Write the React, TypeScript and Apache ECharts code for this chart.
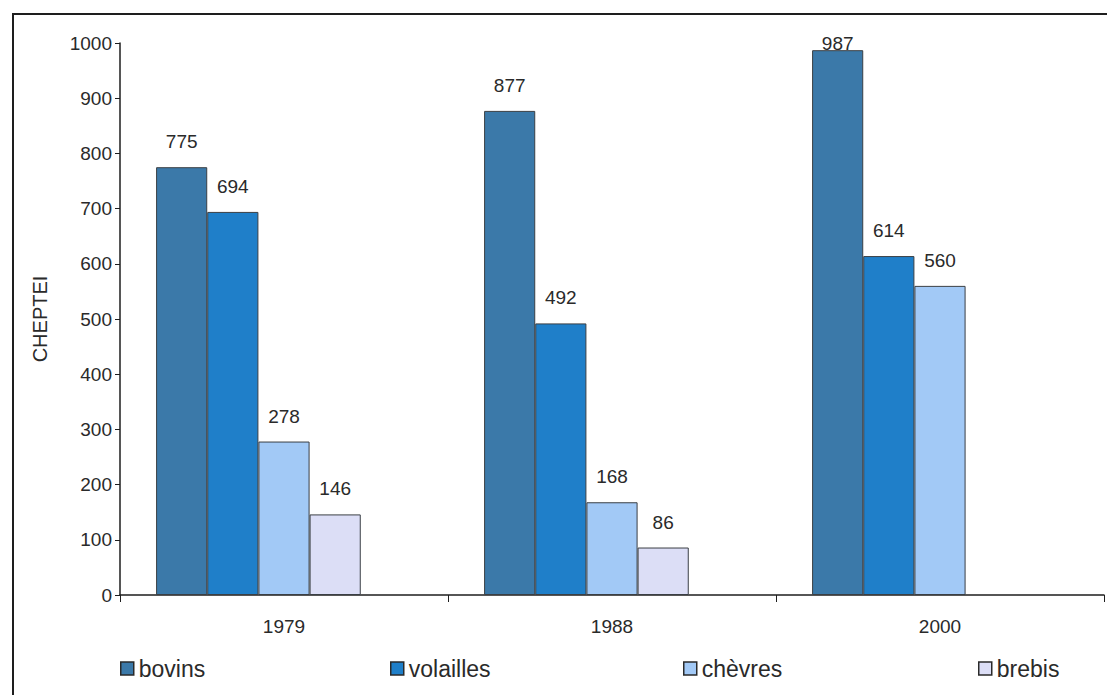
import React, { useEffect, useRef } from "react";
import * as echarts from "echarts";

// Livestock counts per census year
const years = ["1979", "1988", "2000"];
const bovins = [775, 877, 987];
const volailles = [694, 492, 614];
const chevres = [278, 168, 560];
const brebis: (number | null)[] = [146, 86, null];

const seriesNames = ["bovins", "volailles", "chèvres", "brebis"];
const seriesColors = ["#3b79a9", "#1f7fc9", "#a2c9f6", "#dcdef6"];
const yTicks = [0, 100, 200, 300, 400, 500, 600, 700, 800, 900, 1000];

const FONT = "'Liberation Sans', Arial, sans-serif";
const TEXT = "#2a2a2a";
const legendLefts = [120, 390, 683, 978];

export default function App() {
  const ref = useRef<HTMLDivElement>(null);

  useEffect(() => {
    if (!ref.current) return;
    const chart = echarts.init(ref.current, undefined, { renderer: "svg" });
    const values = [bovins, volailles, chevres, brebis];

    const barSeries = values.map((vals, i) => ({
      type: "bar",
      name: seriesNames[i],
      data: vals.map((v) =>
        v !== null && v > 950 ? { value: v, label: { distance: -3 } } : v
      ),
      itemStyle: { color: seriesColors[i], borderColor: "#3a3f44", borderWidth: 1 },
      label: {
        show: true,
        position: "top",
        distance: 16,
        color: TEXT,
        fontFamily: FONT,
        fontSize: 19,
      },
    }));

    chart.setOption({
      animation: false,
      backgroundColor: "#ffffff",
      textStyle: { fontFamily: FONT },
      graphic: [
        {
          type: "rect",
          shape: { x: 13, y: 14, width: 1200, height: 1000 },
          style: { fill: "none", stroke: "#1e1e1e", lineWidth: 2 },
          silent: true,
          z: 100,
        },
      ],
      grid: { left: 120, right: 3, top: 43, bottom: 100, containLabel: false },
      legend: seriesNames.map((name, i) => ({
        data: [name],
        left: legendLefts[i],
        top: 657,
        padding: 0,
        itemWidth: 13,
        itemHeight: 13,
        icon: "rect",
        itemStyle: { borderColor: "#2a2a2a", borderWidth: 1.5 },
        textStyle: { color: TEXT, fontFamily: FONT, fontSize: 23 },
      })),
      xAxis: {
        type: "category",
        data: years,
        axisLine: { lineStyle: { color: "#1e1e1e", width: 1.5 } },
        axisTick: { show: true, length: 7, lineStyle: { color: "#1e1e1e" } },
        axisLabel: { color: TEXT, fontFamily: FONT, fontSize: 19, margin: 22 },
      },
      yAxis: {
        type: "value",
        min: yTicks[0],
        max: yTicks[yTicks.length - 1],
        interval: 100,
        name: "CHEPTEI",
        nameLocation: "middle",
        nameGap: 70,
        nameRotate: 90,
        nameTextStyle: { color: TEXT, fontFamily: FONT, fontSize: 20 },
        axisLine: { show: true, lineStyle: { color: "#1e1e1e", width: 1.5 } },
        axisTick: { show: true, length: 5, lineStyle: { color: "#1e1e1e" } },
        splitLine: { show: false },
        axisLabel: {
          color: TEXT,
          fontFamily: FONT,
          fontSize: 19,
          margin: 8,
          formatter: (v: number) => String(v),
        },
      },
      series: [
        ...barSeries,
        // empty trailing slot keeps each year's group left of the tick label
        { type: "bar", name: "réserve", data: [], silent: true },
      ].map((s) => ({ ...s, barGap: 0, barCategoryGap: "22%" })),
    });

    return () => chart.dispose();
  }, []);

  return (
    <div
      ref={ref}
      style={{ position: "fixed", left: 0, top: 0, width: 1107, height: 695, background: "#fff" }}
    />
  );
}
